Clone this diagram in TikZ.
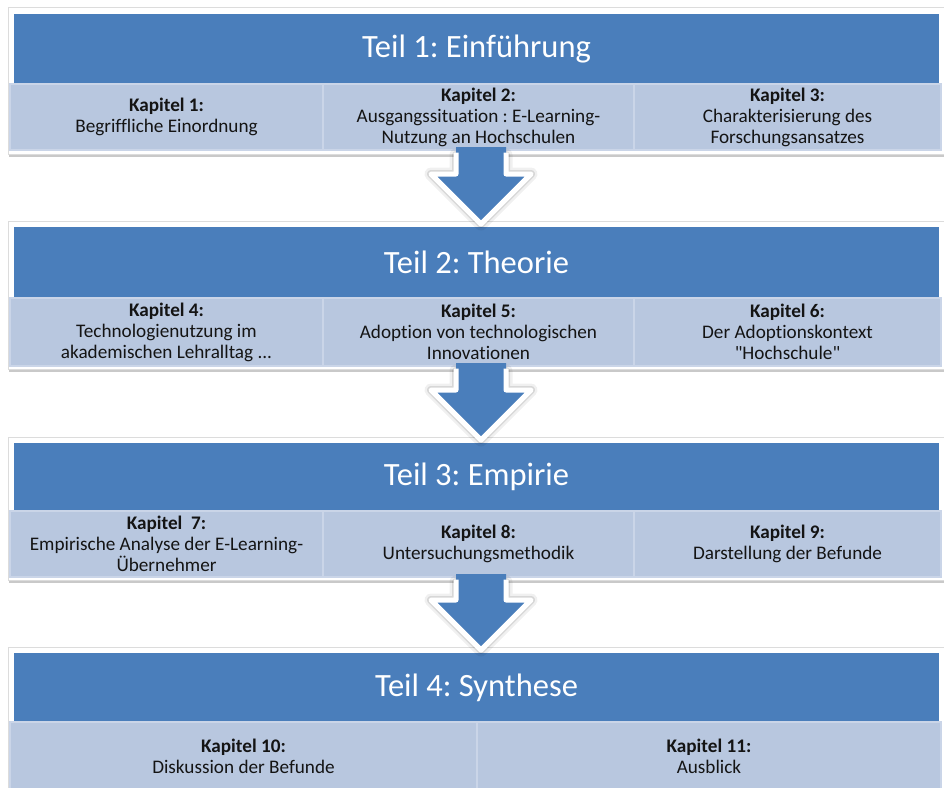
\documentclass[tikz,border=0pt]{standalone}
\usepackage{fontspec}
\setmainfont{Carlito}[Ligatures={NoCommon}]
\newfontfamily\plainfont{Carlito}
\usetikzlibrary{calc,shadows}
\definecolor{headblue}{HTML}{4A7EBB}
\definecolor{chapfill}{HTML}{B8C7DF}
\definecolor{chapedge}{HTML}{CAD5E8}
\definecolor{framegray}{HTML}{DCDCDC}
\definecolor{chaptext}{HTML}{141414}

\tikzset{
  panelframe/.style={draw=framegray, fill=white, line width=0.8bp, inner sep=0pt,
    outer sep=0pt, anchor=north west,
    drop shadow={shadow xshift=1bp, shadow yshift=-3bp, opacity=0.35, fill=black!60}},
  parthead/.style={fill=headblue, text=white, inner sep=0pt, outer sep=0pt,
    anchor=north west, minimum width=925bp,
    font=\fontsize{32.5bp}{38bp}\selectfont},
  chapbox/.style={fill=chapfill, draw=chapedge, line width=1.2bp, inner sep=0pt,
    outer sep=0pt, anchor=north west, align=center, text=chaptext,
    font=\fontsize{19.2bp}{21bp}\selectfont},
  arrowshade/.style={draw=black, fill=black, line join=round},
  arrowbody/.style={fill=headblue},
  arrowrim/.style={draw=white, line width=5bp, line join=round}
}

% block arrow from the chapter row #1 down to the frame #2
\newcommand\partarrow[2]{%
  \coordinate (tip) at ($(#2.north)+(1,3)$);
  \coordinate (top) at ($(tip |- #1.south)+(0,-3)$);
  \coordinate (shl) at ($(tip)+(-25,-50)$);
  \coordinate (shr) at ($(tip)+(25,-50)$);
  \coordinate (hdl) at ($(tip)+(-50,-50)$);
  \coordinate (hdr) at ($(tip)+(50,-50)$);
  % soft shadow around the white rim
  \begin{scope}[shift={(2.5,3)}]
    \path[arrowshade, opacity=0.06, line width=13bp] ($(top)+(-25,8)$) -- (shl) -- (hdl)
      -- (tip) -- (hdr) -- (shr) -- ($(top)+(25,8)$) -- cycle;
    \path[arrowshade, opacity=0.10, line width=8bp] ($(top)+(-25,8)$) -- (shl) -- (hdl)
      -- (tip) -- (hdr) -- (shr) -- ($(top)+(25,8)$) -- cycle;
  \end{scope}
  \fill[arrowbody] ($(top)+(-25,0)$) -- (shl) -- (hdl) -- (tip)
    -- (hdr) -- (shr) -- ($(top)+(25,0)$) -- cycle;
  \draw[arrowrim] ($(top)+(-25,5.5)$) -- (shl) -- (hdl) -- (tip)
    -- (hdr) -- (shr) -- ($(top)+(25,5.5)$);
}

\begin{document}
\frenchspacing
\begin{tikzpicture}[x=1bp,y=-1bp]
\useasboundingbox (0,0) rectangle (944,788);
\fill[white] (0,0) rectangle (944,788);

% Teil 1
\node[panelframe, minimum width=944bp, minimum height=147bp] (f1) at (8,7) {};
\node[parthead, minimum height=70bp] (h1) at (14,14) {Teil 1: Einführung};
\node[chapbox, minimum width=313bp, minimum height=66bp] (k1) at (10,84)
  {\textbf{Kapitel 1:}\\Begriffliche Einordnung};
\node[chapbox, minimum width=311bp, minimum height=66bp] (k2) at (323,84)
  {\textbf{Kapitel 2:}\\Ausgangssituation : E-Learning-\\Nutzung an Hochschulen};
\node[chapbox, minimum width=307bp, minimum height=66bp] (k3) at (634,84)
  {\textbf{Kapitel 3:}\\Charakterisierung des\\Forschungsansatzes};

% Teil 2
\node[panelframe, minimum width=944bp, minimum height=148bp] (f2) at (8,221) {};
\node[parthead, minimum height=71bp] (h2) at (14,227) {Teil 2: Theorie};
\node[chapbox, minimum width=313bp, minimum height=68bp] (k4) at (10,298)
  {\textbf{Kapitel 4:}\\Technologienutzung im\\akademischen Lehralltag ...};
\node[chapbox, minimum width=311bp, minimum height=68bp] (k5) at (323,298)
  {\textbf{Kapitel 5:}\\Adoption von technologischen\\Innovationen};
\node[chapbox, minimum width=307bp, minimum height=68bp] (k6) at (634,298)
  {\textbf{Kapitel 6:}\\Der Adoptionskontext\\{\plainfont"}Hochschule{\plainfont"}};

% Teil 3
\node[panelframe, minimum width=944bp, minimum height=143bp] (f3) at (8,437) {};
\node[parthead, minimum height=68bp] (h3) at (14,443) {Teil 3: Empirie};
\node[chapbox, minimum width=313bp, minimum height=66bp] (k7) at (10,511)
  {\textbf{Kapitel\ \ 7:}\\Empirische Analyse der E-Learning-\\Übernehmer};
\node[chapbox, minimum width=311bp, minimum height=66bp] (k8) at (323,511)
  {\textbf{Kapitel 8:}\\Untersuchungsmethodik};
\node[chapbox, minimum width=307bp, minimum height=66bp] (k9) at (634,511)
  {\textbf{Kapitel 9:}\\Darstellung der Befunde};

% Teil 4
\node[panelframe, minimum width=944bp, minimum height=150bp] (f4) at (8,647) {};
\node[parthead, minimum height=69bp] (h4) at (14,653) {Teil 4: Synthese};
\node[chapbox, minimum width=467bp, minimum height=68bp] (k10) at (10,722)
  {\textbf{Kapitel 10:}\\Diskussion der Befunde};
\node[chapbox, minimum width=464bp, minimum height=68bp] (k11) at (477,722)
  {\textbf{Kapitel 11:}\\Ausblick};

% arrows between the parts
\partarrow{k2}{f2}
\partarrow{k5}{f3}
\partarrow{k8}{f4}
\end{tikzpicture}
\end{document}
